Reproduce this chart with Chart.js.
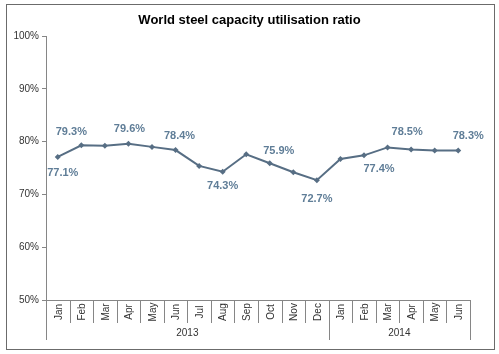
<!DOCTYPE html>
<html>
<head>
<meta charset="utf-8">
<title>World steel capacity utilisation ratio</title>
<script src="https://cdn.jsdelivr.net/npm/chart.js@4.4.1/dist/chart.umd.min.js"></script>
<style>
    html, body { margin: 0; padding: 0; background: #fff; }
    #wrap { width: 499px; height: 354px; }
</style>
</head>
<body>
<div id="wrap"><canvas id="steelChart" width="499" height="354"></canvas></div>
<script>
// Chart data
const chartTitle = 'World steel capacity utilisation ratio';
const months = ['Jan', 'Feb', 'Mar', 'Apr', 'May', 'Jun', 'Jul', 'Aug', 'Sep', 'Oct', 'Nov', 'Dec',
                'Jan', 'Feb', 'Mar', 'Apr', 'May', 'Jun'];
const years = ['2013', '2014'];
const monthsPerYear = [12, 6];
const utilisation = [77.1, 79.3, 79.2, 79.6, 79.0, 78.4, 75.4, 74.3, 77.6, 75.9, 74.2, 72.7,
                     76.7, 77.4, 78.9, 78.5, 78.3, 78.3];
const yTicks = [50, 60, 70, 80, 90, 100];

// Which points show their value, and where the label sits relative to the point
const labelledPoints = [0, 1, 3, 5, 7, 9, 11, 13, 15, 17];
const labelOffsets = {
    0: [5, 16], 1: [-10, -13], 3: [1, -15], 5: [4, -14], 7: [0, 14],
    9: [9, -12], 11: [0, 19], 13: [15, 14], 15: [-4, -18], 17: [10, -15]
};

const FONT = "'Liberation Sans', Arial, sans-serif";
const LINE_COLOR = '#576e84';
const LABEL_COLOR = '#5f7d97';
const AXIS_COLOR = '#868686';

// Frame, title, category dividers, month / year labels and value labels
const decorPlugin = {
    id: 'decor',
    beforeDraw(chart) {
        const ctx = chart.ctx;
        ctx.save();
        ctx.fillStyle = '#fff';
        ctx.fillRect(0, 0, chart.width, chart.height);
        ctx.strokeStyle = '#6b6b6b';
        ctx.lineWidth = 1;
        ctx.strokeRect(6.5, 4.5, 488, 345);

        ctx.fillStyle = '#000';
        ctx.font = 'bold 13px ' + FONT;
        ctx.textAlign = 'center';
        ctx.textBaseline = 'middle';
        ctx.fillText(chartTitle, chart.width / 2, 20);
        ctx.restore();
    },
    afterDraw(chart) {
        const ctx = chart.ctx;
        const xScale = chart.scales.x;
        const area = chart.chartArea;
        const step = (xScale.getPixelForValue(1) - xScale.getPixelForValue(0));
        const bottom = area.bottom;

        ctx.save();
        ctx.strokeStyle = AXIS_COLOR;
        ctx.lineWidth = 1;

        // dividers between months
        for (let i = 0; i <= months.length; i++) {
            const x = Math.round(xScale.getPixelForValue(i) - step / 2) + 0.5;
            ctx.beginPath();
            ctx.moveTo(x, bottom);
            ctx.lineTo(x, bottom + 23);
            ctx.stroke();
        }

        // dividers between years (longer) + year labels
        let start = 0;
        ctx.fillStyle = '#333';
        ctx.font = '10px ' + FONT;
        ctx.textAlign = 'center';
        ctx.textBaseline = 'middle';
        years.forEach((year, k) => {
            const end = start + monthsPerYear[k];
            const x0 = xScale.getPixelForValue(start) - step / 2;
            const x1 = xScale.getPixelForValue(end - 1) + step / 2;
            [x0, x1].forEach(x => {
                const xx = Math.round(x) + 0.5;
                ctx.beginPath();
                ctx.moveTo(xx, bottom);
                ctx.lineTo(xx, bottom + 40);
                ctx.stroke();
            });
            ctx.fillText(year, (x0 + x1) / 2, bottom + 33);
            start = end;
        });

        // month labels, rotated
        months.forEach((m, i) => {
            const x = xScale.getPixelForValue(i);
            ctx.save();
            ctx.translate(x + 1, bottom + 12);
            ctx.rotate(-Math.PI / 2);
            ctx.fillText(m, 0, 0);
            ctx.restore();
        });

        // value labels
        const meta = chart.getDatasetMeta(0);
        ctx.fillStyle = LABEL_COLOR;
        ctx.font = 'bold 11px ' + FONT;
        labelledPoints.forEach(i => {
            const pt = meta.data[i];
            const off = labelOffsets[i] || [0, -14];
            ctx.fillText(utilisation[i].toFixed(1) + '%', pt.x + off[0], pt.y + off[1]);
        });
        ctx.restore();
    }
};

document.addEventListener('DOMContentLoaded', () => {
    const ctx = document.getElementById('steelChart').getContext('2d');

    new Chart(ctx, {
        type: 'line',
        data: {
            labels: months,
            datasets: [{
                label: 'Capacity utilisation',
                data: utilisation,
                borderColor: LINE_COLOR,
                backgroundColor: LINE_COLOR,
                borderWidth: 2,
                pointStyle: 'rectRot',
                pointRadius: 3,
                pointBorderWidth: 0,
                tension: 0
            }]
        },
        options: {
            responsive: false,
            animation: false,
            layout: { padding: { left: 6, right: 29, top: 36, bottom: 4 } },
            plugins: {
                legend: { display: false },
                tooltip: { enabled: false },
                title: { display: false }
            },
            scales: {
                x: {
                    offset: true,
                    ticks: { display: false },
                    grid: { display: false },
                    border: { color: AXIS_COLOR },
                    afterFit: (scale) => { scale.height = 50; }
                },
                y: {
                    min: 50,
                    max: 100,
                    afterBuildTicks: (scale) => { scale.ticks = yTicks.map(v => ({ value: v })); },
                    ticks: {
                        callback: (v) => v + '%',
                        color: '#333',
                        font: { family: FONT, size: 10 },
                        padding: 3
                    },
                    grid: { drawOnChartArea: false, tickLength: 4, color: AXIS_COLOR },
                    border: { color: AXIS_COLOR },
                    afterFit: (scale) => { scale.width = 40; }
                }
            }
        },
        plugins: [decorPlugin]
    });
});
</script>
</body>
</html>
